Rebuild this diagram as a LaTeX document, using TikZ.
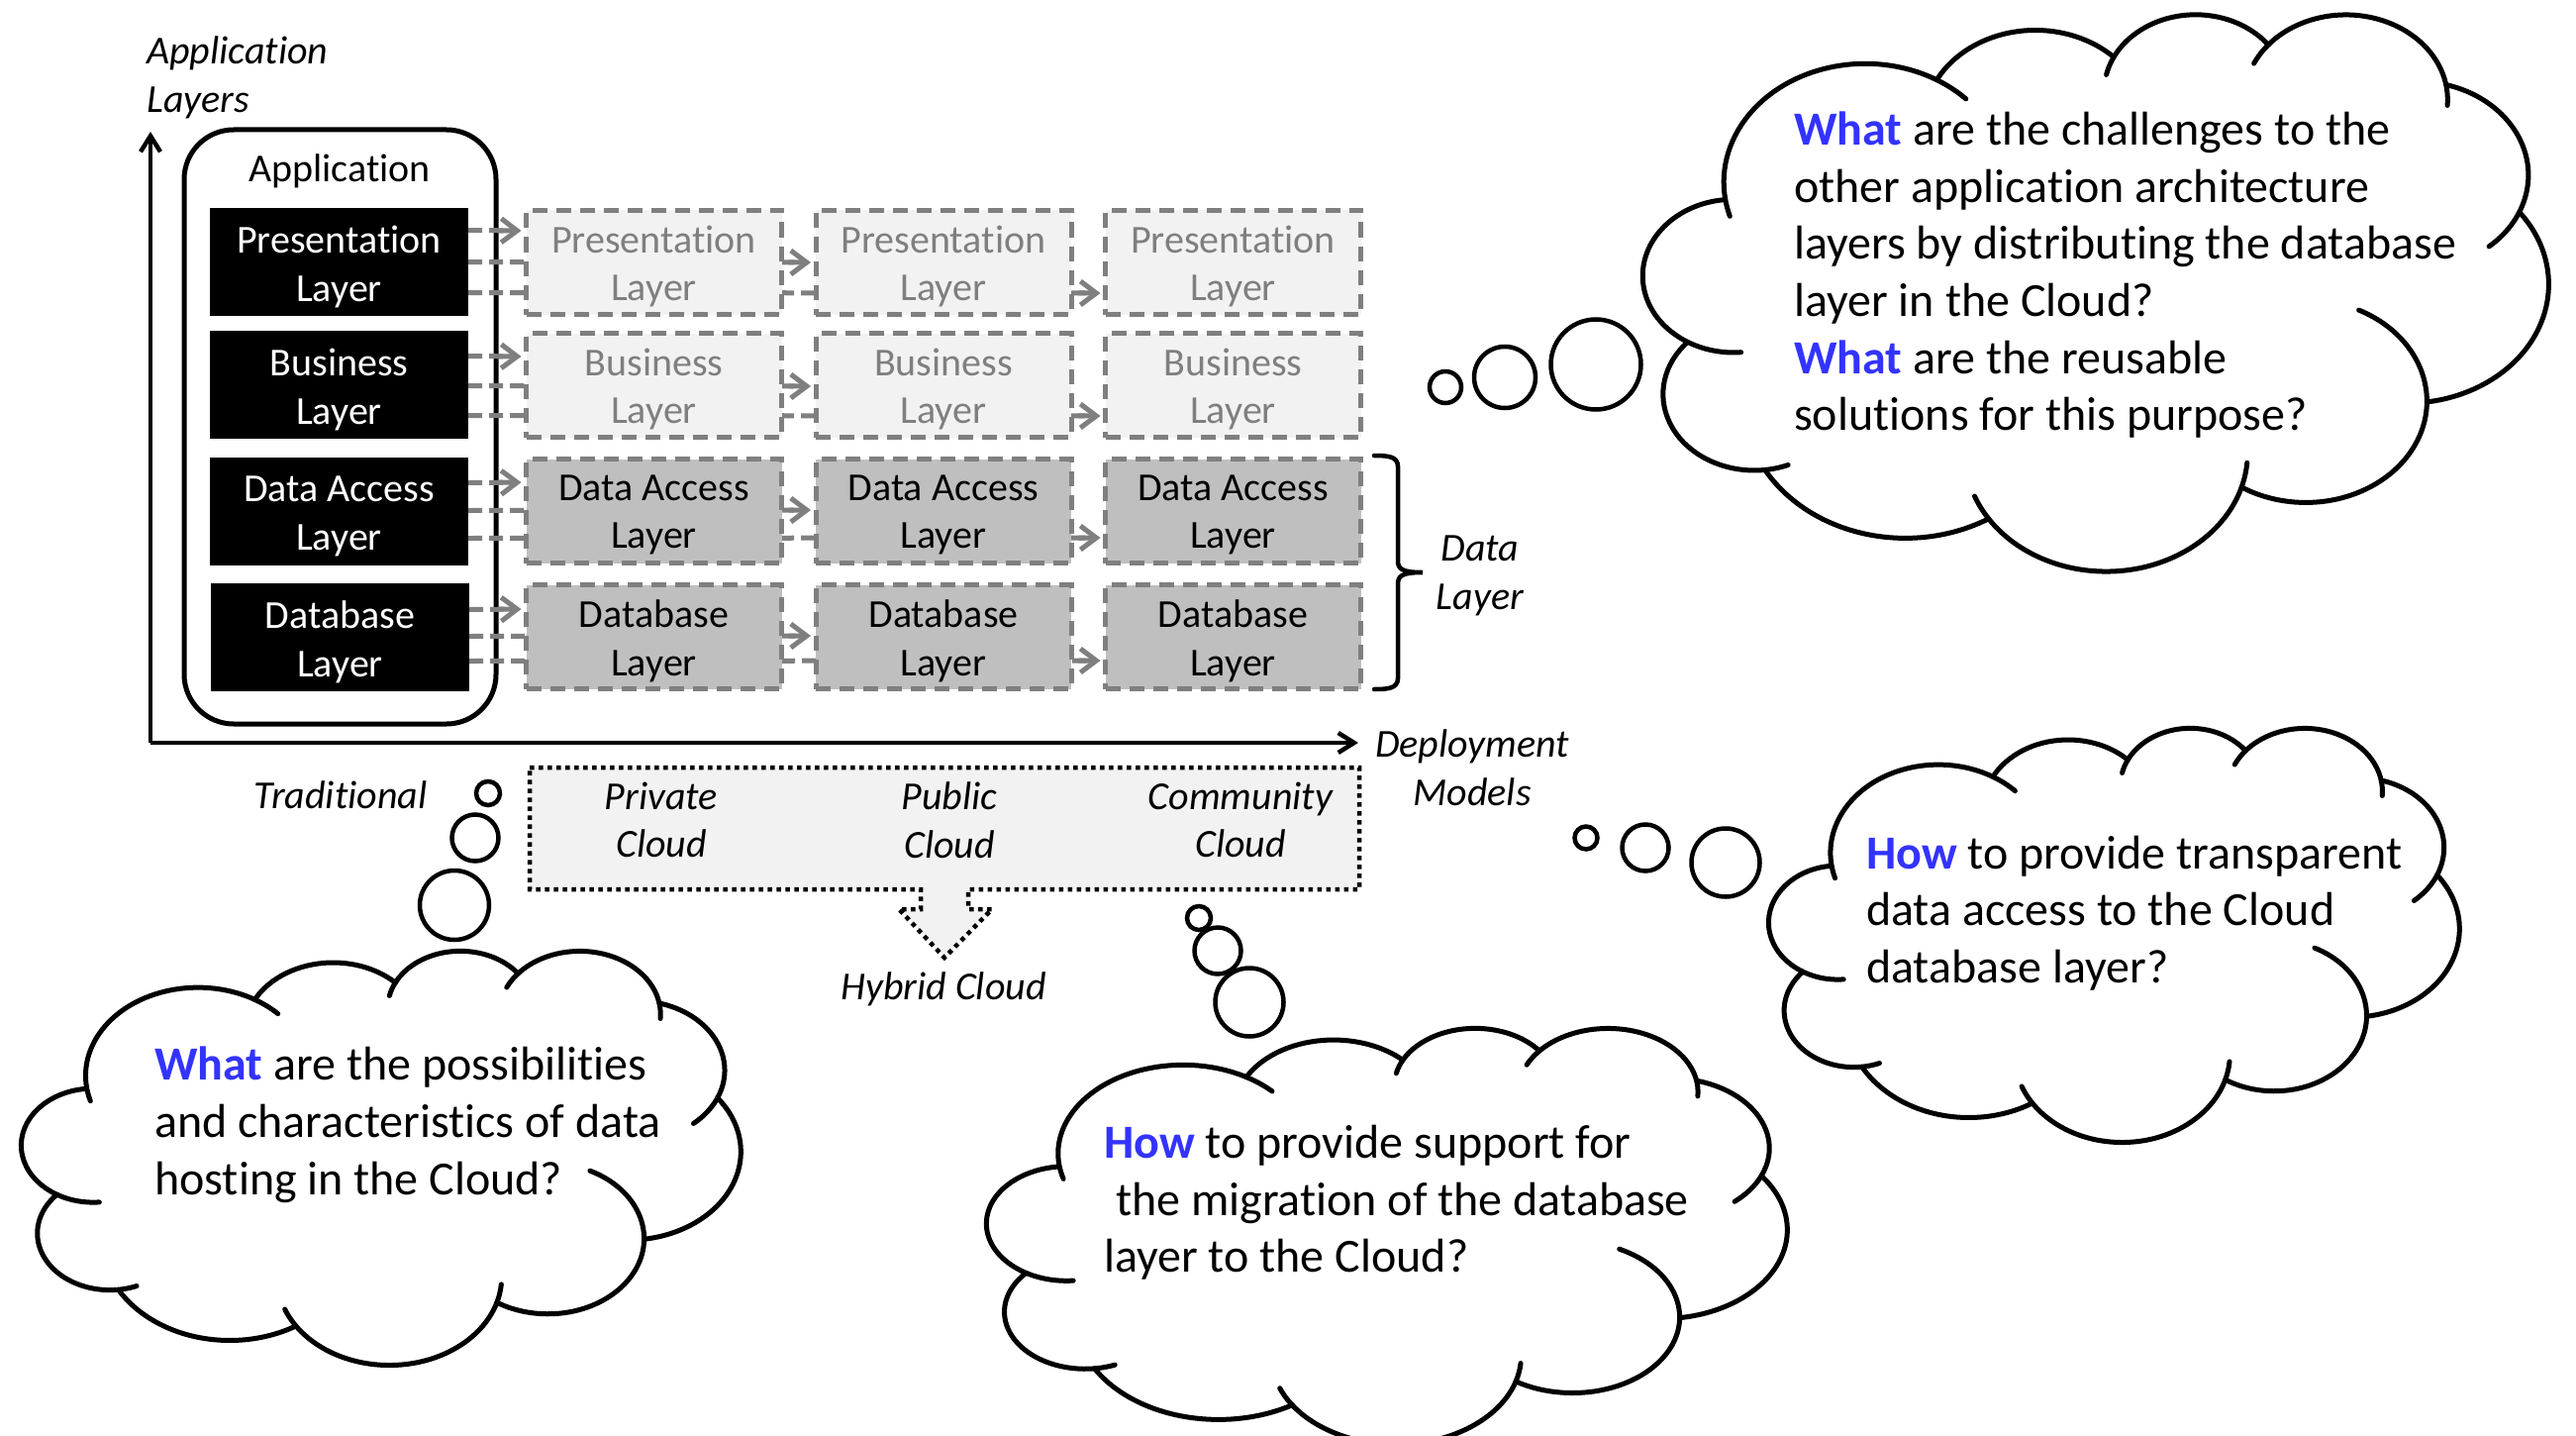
\documentclass[tikz,border=0pt]{standalone}
\usepackage{fontspec}
\setmainfont{Carlito}[Ligatures=NoCommon]
\usetikzlibrary{arrows.meta,shapes.geometric}
\pgfdeclarelayer{under}
\pgfsetlayers{under,main}
\definecolor{qblue}{HTML}{3333FF}
\definecolor{dgrey}{HTML}{7F7F7F}
\definecolor{lfill}{HTML}{F2F2F2}
\definecolor{mfill}{HTML}{BFBFBF}
\tikzset{
  boxtext/.style={inner sep=0pt,align=center,font=\fontsize{40}{48.7}\selectfont},
  blackbox/.style={draw=none,fill=black,minimum width=261pt,minimum height=109pt,inner sep=0pt},
  paleBox/.style={draw=dgrey,fill=lfill,line width=5pt,dash pattern=on 15pt off 9pt,minimum width=258pt,minimum height=105pt,inner sep=0pt,outer sep=0pt},
  darkBox/.style={paleBox,fill=mfill},
  dashlink/.style={draw=dgrey,line width=5pt,dash pattern=on 14pt off 7pt,shorten >=5pt,-{Rectangle[length=22pt,width=5pt,sep=-20pt] Straight Barb[length=16pt,width=24pt,line width=5pt]}},
  axisline/.style={line width=4.5pt,-{Straight Barb[length=16pt,width=20pt,line width=4.5pt]}},
  itlabel/.style={inner sep=0pt,align=center,font=\fontsize{40}{48.7}\selectfont\itshape},
  qtext/.style={inner sep=0pt,anchor=north west,align=left,font=\fontsize{48}{57.7}\selectfont},
  cloudline/.style={line width=5pt,line cap=round,draw=black},
  bubbleline/.style={line width=4.5pt,draw=black}
}
% one lobe of the cloud: wR hR start sweep back forward
\newcommand\lobe[6]{%
  \pgfmathsetmacro\tA{atan2(#1*sin(#3),#2*cos(#3))}%
  \pgfmathsetmacro\tB{atan2(#1*sin(#3+#4),#2*cos(#3+#4))}%
  \pgfmathsetmacro\dT{mod(\tB-\tA+720,360)}%
  \pgfmathsetmacro\cX{\curX-#1*cos(\tA)}%
  \pgfmathsetmacro\cY{\curY-#2*sin(\tA)}%
  \pgfmathsetmacro\sT{\tA-#5}%
  \pgfmathsetmacro\pX{\cloudX+\cloudS*(\cX+#1*cos(\sT))}%
  \pgfmathsetmacro\pY{\cloudY+\cloudT*(\cY+#2*sin(\sT))}%
  \pgfmathsetmacro\rX{\cloudS*#1}%
  \pgfmathsetmacro\rY{\cloudT*#2}%
  \pgfmathsetmacro\sA{-\sT}%
  \pgfmathsetmacro\dA{-(\dT+#5+#6)}%
  \draw[cloudline] (\pX,\pY) arc[start angle=\sA,delta angle=\dA,x radius=\rX pt,y radius=\rY pt];
  \pgfmathsetmacro\curX{\cX+#1*cos(\tB)}%
  \pgfmathsetmacro\curY{\cY+#2*sin(\tB)}%
}
% left top width height
\newcommand\thoughtcloud[4]{%
  \def\cloudX{#1}\def\cloudY{#2}%
  \pgfmathsetmacro\cloudS{#3/43.2}%
  \pgfmathsetmacro\cloudT{#4/43.2}%
  \def\curX{3.9}\def\curY{14.37}%
  \lobe{6.753}{9.19}{-190.4875}{123.7805}{9}{15}%
  \lobe{5.333}{7.267}{-144.1024}{89.9452}{0}{0}%
  \lobe{4.365}{5.945}{-145.8079}{99.723}{14}{0}%
  \lobe{4.857}{6.595}{-130.9861}{117.2417}{15}{14}%
  \lobe{5.333}{7.273}{-78.7089}{109.0269}{0}{26.4}%
  \lobe{6.775}{9.22}{-46.2673}{130.269}{0}{0}%
  \lobe{5.785}{7.867}{0.625}{114.0333}{64.5}{0}%
  \lobe{6.752}{9.215}{22.4516}{115.1726}{12}{12.3}%
  \lobe{7.72}{10.543}{66.2426}{75.711}{0}{0}%
  \lobe{4.36}{5.918}{-274.9421}{146.7356}{15}{0}%
  \lobe{4.345}{5.945}{-246.8285}{152.5189}{35}{0}%
}
\begin{document}
\begin{tikzpicture}[x=1pt,y=-1pt]
\path[use as bounding box] (0,0) rectangle (2602,1450);
\begin{pgfonlayer}{under}
\fill[white] (0,0) rectangle (2602,1450);
\end{pgfonlayer}
\clip (0,0) rectangle (2602,1450);

% axes
\coordinate (origin) at (152,750);
\coordinate (ytop) at (152,133);
\coordinate (xend) at (1372,750);
\draw[axisline] (origin) -- (ytop);
\draw[axisline] (origin) -- (xend);
\node[inner sep=0pt,align=left,anchor=west,font=\fontsize{40}{48.7}\selectfont\itshape] (ylab) at (148,78) {Application\\Layers};
\node[itlabel] (xlab) at (1487,775) {Deployment\\Models};

% application box
\begin{pgfonlayer}{under}
\draw[line width=5pt,rounded corners=50pt] (186,131) rectangle (501,731);
\end{pgfonlayer}
\node[inner sep=0pt,font=\fontsize{40}{48.7}\selectfont] (apptitle) at (343,173) {Application};

% left column
\node[blackbox] (kp) at (342.5,264.5) {};
\node[blackbox] (kb) at (342.5,388.5) {};
\node[blackbox] (kd) at (342.5,516.5) {};
\node[blackbox] (ka) at (343.5,643.5) {};
\node[boxtext,text=white] (kpt) at ([yshift=-5pt]kp.center) {Presentation\\Layer};
\node[boxtext,text=white] (kbt) at ([yshift=-5pt]kb.center) {Business\\Layer};
\node[boxtext,text=white] (kdt) at ([yshift=-5pt]kd.center) {Data Access\\Layer};
\node[boxtext,text=white] (kat) at ([yshift=-5pt]ka.center) {Database\\Layer};

% columns
\foreach \c/\x in {1/660.5,2/953,3/1245.5}{
  \node[paleBox] (p\c) at (\x,265) {};
  \node[paleBox] (b\c) at (\x,389) {};
  \node[darkBox] (d\c) at (\x,516) {};
  \node[darkBox] (a\c) at (\x,643) {};
  \node[boxtext,text=dgrey] (p\c t) at ([yshift=-4pt]p\c.center) {Presentation\\Layer};
  \node[boxtext,text=dgrey] (b\c t) at ([yshift=-4pt]b\c.center) {Business\\Layer};
  \node[boxtext] (d\c t) at ([yshift=-4pt]d\c.center) {Data Access\\Layer};
  \node[boxtext] (a\c t) at ([yshift=-4pt]a\c.center) {Database\\Layer};
}

% connectors
\begin{pgfonlayer}{under}
\foreach \r/\u/\v/\w in {p/32/0/-31,b/29/-1/-31,d/29/1/-27,a/28/1/-24}{
  \draw[dashlink] ([yshift=\u pt]k\r.east) -- ([yshift=\u pt]\r1.west);
  \draw[dashlink] ([yshift=\v pt]k\r.east) -- ([yshift=\v pt]\r2.west);
  \draw[dashlink] ([yshift=\w pt]k\r.east) -- ([yshift=\w pt]\r3.west);
}
\end{pgfonlayer}

% brace
\draw[line width=4.5pt,line cap=round] (1388,460) .. controls (1402,460) and (1412,461) .. (1412,471) -- (1412,566) .. controls (1412,574) and (1415,578) .. (1437,578) .. controls (1415,578) and (1412,582) .. (1412,590) -- (1412,685) .. controls (1412,695) and (1402,696) .. (1388,696);
\node[itlabel] (dlab) at (1495,581.5) {Data\\Layer};

% deployment models
\draw[fill=lfill,line width=4.5pt,dash pattern=on 4.5pt off 4.5pt] (535,775) -- (1373,775) -- (1373,898) -- (978,898) -- (978,918) -- (1002,918) -- (954,967) -- (908,918) -- (930,918) -- (930,898) -- (535,898) -- cycle;
\node[itlabel] (priv) at (668,828) {Private\\Cloud};
\node[itlabel] (pub) at (959,828) {Public\\Cloud};
\node[itlabel] (comm) at (1253,828) {Community\\Cloud};
\node[itlabel] (hyb) at (953,999) {Hybrid Cloud};
\node[itlabel] (trad) at (344,803) {Traditional};

% bubbles
\draw[bubbleline] (1460,391) ellipse[x radius=16pt,y radius=16pt];
\draw[bubbleline] (1520,381) ellipse[x radius=31pt,y radius=31pt];
\draw[bubbleline] (1612,368) ellipse[x radius=45.5pt,y radius=45.5pt];
\draw[bubbleline] (1602,846) ellipse[x radius=11.5pt,y radius=11.5pt];
\draw[bubbleline] (1662,856) ellipse[x radius=23.5pt,y radius=23.5pt];
\draw[bubbleline] (1743,871) ellipse[x radius=34.5pt,y radius=34.5pt];
\draw[bubbleline] (493,801) ellipse[x radius=12pt,y radius=12pt];
\draw[bubbleline] (480,846) ellipse[x radius=23.5pt,y radius=23.5pt];
\draw[bubbleline] (459,914) ellipse[x radius=35pt,y radius=35pt];
\draw[bubbleline] (1211,927) ellipse[x radius=12pt,y radius=12pt];
\draw[bubbleline] (1230,960) ellipse[x radius=23.5pt,y radius=23.5pt];
\draw[bubbleline] (1262,1012) ellipse[x radius=34.5pt,y radius=34.5pt];

% clouds
\thoughtcloud{1660}{13}{914}{562}
\thoughtcloud{1787}{734}{697}{418}
\thoughtcloud{22}{959}{726}{418}
\thoughtcloud{997}{1037}{808}{420}

\node[qtext] (q1) at (1812,112.5) {\textcolor{qblue}{\textbf{What}} are the challenges to the\\other application architecture\\layers by distributing the database\\layer in the Cloud?\\\textcolor{qblue}{\textbf{What}} are the reusable\\solutions for this purpose?};
\node[qtext] (q2) at (1885,843.5) {\textcolor{qblue}{\textbf{How}} to provide transparent\\data access to the Cloud\\database layer?};
\node[qtext] (q3) at (156,1057) {\textcolor{qblue}{\textbf{What}} are the possibilities\\and characteristics of data\\hosting in the Cloud?};
\node[qtext] (q4) at (1115,1136) {\textcolor{qblue}{\textbf{How}} to provide support for\\\hspace*{12pt}the migration of the database\\layer to the Cloud?};
\end{tikzpicture}
\end{document}
